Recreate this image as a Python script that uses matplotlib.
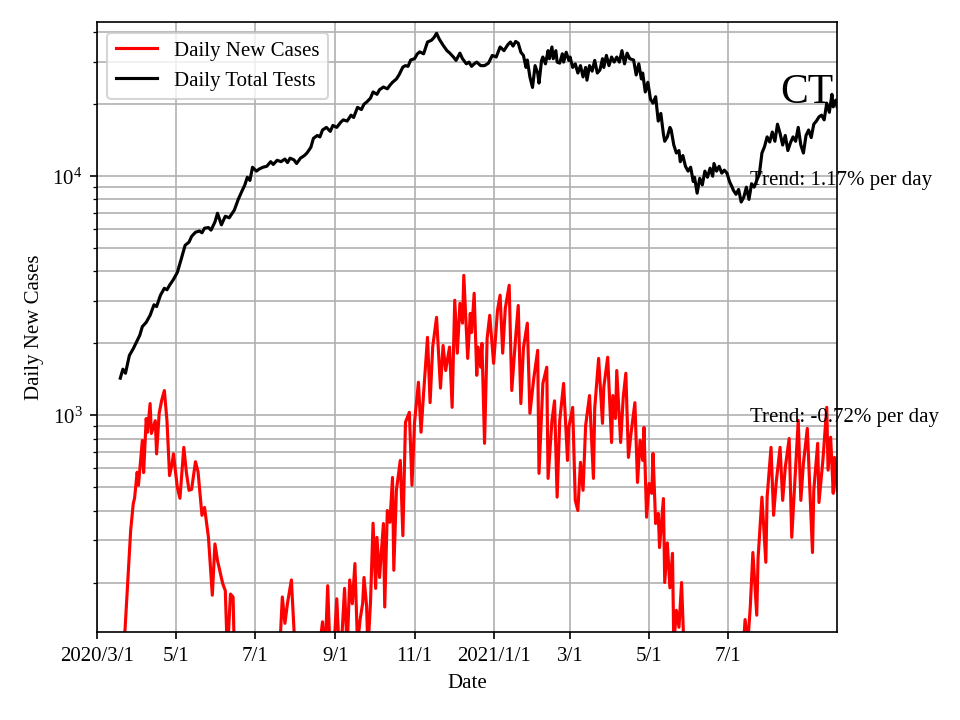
import numpy as np
import pandas as pd
import matplotlib
matplotlib.use("Agg")
import matplotlib.pyplot as plt

plt.rcParams['font.family'] = ['Liberation Serif', 'DejaVu Serif']
plt.rcParams['mathtext.fontset'] = 'stix'

start = pd.Timestamp("2020-03-01")

# daily total tests, (day offset from 2020-03-01, value)
test_day = [18, 20, 22, 25, 28, 30, 33, 35, 38, 41, 44, 46, 49, 52, 54, 56, 59, 62, 65, 68,
            71, 73, 76, 79, 81, 83, 86, 88, 91, 93, 96, 99, 102, 106, 109, 112, 114, 116, 118, 120,
            123, 125, 128, 131, 134, 136, 139, 142, 145, 147, 149, 152, 154, 157, 160, 162, 165, 167, 170, 172,
            174, 177, 180, 182, 185, 188, 190, 193, 196, 198, 201, 204, 206, 208, 211, 213, 216, 218, 221, 224,
            226, 228, 231, 233, 236, 238, 240, 242, 245, 247, 249, 252, 255, 258, 260, 262, 264, 267, 270, 272,
            275, 277, 280, 282, 285, 287, 289, 291, 293, 296, 299, 302, 305, 308, 311, 314, 317, 319, 321, 323,
            325, 327, 329, 331, 332, 334, 336, 338, 340, 341, 343, 344, 346, 348, 349, 351, 352, 354, 355, 357,
            359, 360, 362, 364, 365, 367, 369, 371, 373, 375, 377, 378, 380, 382, 384, 386, 388, 390, 391, 393,
            395, 397, 399, 401, 403, 405, 407, 409, 411, 414, 416, 418, 420, 421, 423, 425, 427, 429, 431, 433,
            435, 437, 438, 440, 442, 443, 445, 447, 449, 450, 452, 454, 456, 458, 460, 461, 463, 465, 467, 469,
            471, 473, 475, 476, 478, 480, 482, 484, 486, 488, 490, 491, 493, 495, 497, 499, 501, 503, 505, 507,
            509, 511, 513, 515, 517, 519, 521, 523, 525, 527, 529, 531, 533, 535, 537, 539, 541, 543, 545, 547,
            549, 551, 553, 555, 557, 559, 561, 563, 565, 567, 568, 570, 571]
test_val = [1430, 1560, 1500, 1780, 1900, 2000, 2160, 2350, 2450, 2620, 2900, 2850, 3180, 3400, 3350, 3500, 3700, 3960, 4500, 5140,
            5300, 5600, 5830, 5900, 5800, 6060, 6100, 5950, 6430, 7000, 6260, 6800, 6700, 7220, 8000, 8700, 9170, 9900, 9600, 10900,
            10500, 10700, 10900, 11000, 11500, 11200, 11660, 11500, 11800, 11400, 11900, 11700, 11300, 11900, 12200, 12500, 13200, 14400, 14800, 14600,
            15600, 16000, 15400, 16300, 16000, 16800, 17200, 17000, 18000, 17600, 19400, 19000, 20000, 20400, 21200, 22500, 22000, 23000, 23600, 23200,
            24000, 24700, 25500, 26500, 28600, 29000, 28800, 30600, 31000, 32400, 33100, 32500, 36400, 37000, 38000, 39600, 37500, 35300, 33500, 32800,
            31500, 30500, 32700, 31000, 29500, 30000, 28800, 29500, 30000, 29000, 29000, 29700, 32000, 31500, 34700, 33500, 35500, 36400, 35000, 36600,
            36000, 33000, 32000, 28500, 30600, 26000, 23500, 29000, 27000, 24500, 30500, 31500, 29500, 33500, 31000, 34700, 31000, 33500, 30000, 29700,
            32500, 30000, 33000, 30500, 31500, 28500, 29500, 27000, 29000, 26000, 28500, 25200, 29000, 27500, 30500, 27000, 27800, 31000, 28500, 32000,
            29000, 31500, 30000, 31500, 30000, 33500, 29500, 32700, 31000, 30600, 26500, 29500, 25500, 27000, 22500, 24700, 21000, 20200, 21500, 17000,
            18300, 15000, 14000, 14600, 16000, 15600, 13500, 12500, 12800, 11500, 12200, 11000, 10500, 10900, 9500, 9900, 8490, 9800, 9200, 10500,
            9900, 10800, 10000, 11300, 10500, 11000, 10300, 10600, 10300, 9500, 9000, 8730, 8400, 8800, 7800, 8170, 9000, 8000, 9300, 9000,
            9600, 10200, 12500, 13300, 14600, 13900, 15300, 14000, 16500, 15100, 13500, 14800, 12800, 13800, 14600, 14000, 16000, 13500, 12500, 14800,
            15600, 14500, 16500, 17000, 17700, 18000, 17200, 20200, 18500, 22000, 19500, 20800, 19500]

# daily new cases, (day offset from 2020-03-01, value)
case_day = [18, 21, 24, 26, 28, 29, 31, 32, 35, 36, 38, 39, 41, 42, 45, 46, 48, 50, 52, 54,
            56, 58, 59, 62, 64, 67, 69, 71, 73, 76, 78, 81, 83, 86, 89, 91, 93, 97, 99, 100,
            101, 103, 105, 106, 110, 114, 118, 122, 126, 130, 134, 138, 141, 143, 145, 147, 150, 153, 157, 161,
            165, 169, 172, 174, 176, 178, 180, 183, 185, 187, 189, 191, 193, 195, 197, 199, 201, 203, 205, 206,
            208, 209, 211, 213, 215, 216, 218, 221, 222, 224, 226, 228, 229, 231, 234, 236, 238, 241, 243, 245,
            248, 250, 252, 255, 257, 259, 262, 265, 267, 269, 272, 274, 276, 278, 280, 282, 283, 286, 288, 289,
            291, 293, 294, 296, 297, 299, 301, 303, 306, 309, 311, 313, 315, 318, 320, 323, 325, 327, 329, 332,
            334, 337, 340, 341, 344, 347, 348, 351, 353, 355, 357, 360, 363, 364, 367, 369, 371, 373, 375, 377,
            380, 383, 384, 387, 390, 391, 394, 397, 398, 400, 401, 404, 406, 408, 410, 412, 415, 417, 419, 421,
            422, 424, 426, 428, 429, 431, 433, 434, 437, 438, 440, 442, 444, 445, 447, 449, 451, 453, 457, 461,
            465, 469, 473, 477, 481, 485, 489, 493, 497, 499, 500, 502, 504, 506, 509, 510, 513, 516, 517, 520,
            522, 524, 527, 529, 531, 534, 536, 539, 541, 543, 545, 548, 552, 553, 556, 557, 560, 563, 564, 566,
            568, 569, 571]
case_val = [60, 110, 214, 330, 428, 450, 578, 510, 785, 576, 970, 850, 1120, 840, 950, 690, 1020, 1160, 1270, 950,
            560, 630, 690, 500, 450, 735, 576, 486, 490, 640, 580, 382, 412, 309, 177, 290, 247, 198, 185, 126,
            110, 179, 174, 100, 90, 80, 95, 70, 85, 75, 90, 80, 105, 174, 135, 164, 205, 100, 70, 85,
            60, 90, 110, 137, 100, 194, 95, 110, 171, 100, 120, 189, 105, 205, 163, 240, 110, 140, 164, 210,
            160, 105, 164, 354, 189, 309, 210, 353, 158, 400, 357, 550, 225, 486, 648, 314, 935, 1030, 510, 935,
            1375, 850, 1240, 2120, 1130, 1930, 2570, 1300, 1960, 1540, 1930, 1080, 3030, 1820, 2940, 2430, 3850, 1730, 2670, 2220,
            3240, 1470, 1930, 1590, 2000, 764, 2100, 2620, 1650, 2750, 3180, 1820, 2800, 3500, 1270, 2120, 2880, 1120, 1910, 2430,
            1020, 1430, 1870, 572, 1360, 1590, 545, 950, 1150, 455, 950, 1360, 648, 890, 1080, 441, 400, 636, 486, 908,
            1210, 545, 1070, 1730, 926, 1310, 1750, 770, 1210, 970, 1540, 770, 1190, 1500, 667, 840, 1130, 524, 786, 648,
            890, 375, 519, 472, 693, 353, 389, 280, 449, 200, 293, 190, 265, 110, 153, 130, 200, 100, 85, 70,
            90, 60, 80, 55, 75, 65, 90, 70, 100, 115, 140, 110, 158, 267, 146, 252, 455, 243, 455, 735,
            382, 524, 735, 441, 606, 800, 309, 606, 953, 441, 630, 882, 267, 486, 764, 432, 648, 1080, 590, 810,
            472, 667, 486]

tick_dates = ["2020-03-01", "2020-05-01", "2020-07-01", "2020-09-01", "2020-11-01",
              "2021-01-01", "2021-03-01", "2021-05-01", "2021-07-01"]
tick_labels = ["2020/3/1", "5/1", "7/1", "9/1", "11/1", "2021/1/1", "3/1", "5/1", "7/1"]

test_dates = start + pd.to_timedelta(test_day, unit="D")
case_dates = start + pd.to_timedelta(case_day, unit="D")

fig = plt.figure(figsize=(6.4, 4.8), dpi=150)
ax = fig.add_axes([0.101, 0.122, 0.771, 0.847])

ax.plot(case_dates, case_val, color="red", label="Daily New Cases")
ax.plot(test_dates, test_val, color="black", label="Daily Total Tests")
ax.set_yscale("log")
ax.set_ylim(124, 44000)
ax.set_xlim(start, start + pd.Timedelta(days=571))
ax.set_xticks(pd.to_datetime(tick_dates))
ax.set_xticklabels(tick_labels)
ax.grid(True, which="both")

ax.text(start + pd.Timedelta(days=527), 22400, "CT", fontsize=20, va="center", ha="left")
ax.text(start + pd.Timedelta(days=504), 9600, "Trend: 1.17% per day", va="center", ha="left")
ax.text(start + pd.Timedelta(days=504), 980, "Trend: -0.72% per day", va="center", ha="left")

ax.legend(loc="upper left")
ax.set_xlabel("Date")
ax.set_ylabel("Daily New Cases")

fig.savefig("out.png")
